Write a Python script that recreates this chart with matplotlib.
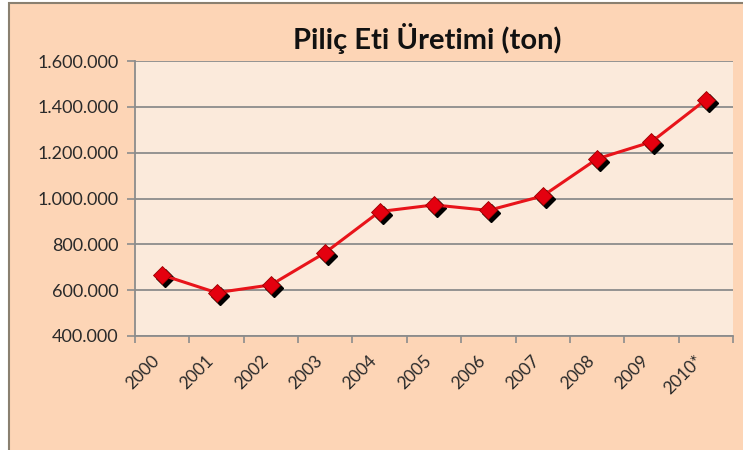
import matplotlib
matplotlib.use("Agg")
import matplotlib.pyplot as plt
import matplotlib.transforms as mtransforms
from matplotlib.patches import Rectangle
from matplotlib.ticker import FuncFormatter

years = ["2000", "2001", "2002", "2003", "2004", "2005", "2006", "2007", "2008", "2009", "2010*"]
production = [666000, 589000, 623000, 764000, 943000, 972000, 948000, 1011000, 1173000, 1247000, 1431000]

plt.rcParams['font.family'] = ['Lato', 'DejaVu Sans']

fig = plt.figure(figsize=(7.43, 4.5), dpi=100, facecolor="white")
# chart area background with border
fig.patches.append(Rectangle((9 / 743, -0.01), 1.0, 1 - 3 / 450 + 0.01, transform=fig.transFigure,
                             facecolor="#FDD5B6", edgecolor="#8a8070", linewidth=1.5, zorder=-10))

ax = fig.add_axes([135 / 743, 1 - 336 / 450, (733 - 135) / 743, (336 - 61) / 450])
ax.set_facecolor("#FBEADB")

x = list(range(len(years)))
shadow = mtransforms.offset_copy(ax.transData, fig=fig, x=3, y=-3, units='dots')
ax.plot(x, production, linestyle="none", marker="D", markersize=9, color="black",
        transform=shadow, zorder=3)
ax.plot(x, production, color="#E8141A", linewidth=2.2, zorder=4)
ax.plot(x, production, linestyle="none", marker="D", markersize=9, color="#E4000F",
        markeredgecolor="#9a0000", markeredgewidth=0.6, zorder=5)

ax.set_xlim(-0.5, len(years) - 0.5)
ax.set_ylim(400000, 1600000)
ax.set_yticks(range(400000, 1600001, 200000))
ax.yaxis.set_major_formatter(FuncFormatter(lambda v, p: f"{int(v):,}".replace(",", ".")))
ax.grid(axis="y", color="#8c8c8c", linewidth=1.3)
ax.set_axisbelow(True)

ax.set_xticks([i - 0.5 for i in range(len(years) + 1)])
ax.set_xticklabels([])
ax.set_xticks(x, minor=True)
ax.set_xticklabels(years, minor=True, rotation=45, ha="right", va="top", rotation_mode="anchor")
ax.tick_params(axis="x", which="minor", length=0, pad=12, labelsize=12.5, labelcolor="#2a2a2a")
ax.tick_params(axis="x", which="major", length=5, color="#8c8c8c", width=1.2)
ax.tick_params(axis="y", length=6, color="#8c8c8c", width=1.2, labelsize=13, labelcolor="#2a2a2a", pad=6)
shift = mtransforms.ScaledTranslation(-11 / 100, 0, fig.dpi_scale_trans)
for lab in ax.get_xticklabels(minor=True):
    lab.set_transform(lab.get_transform() + shift)

for s in ["top", "right"]:
    ax.spines[s].set_visible(False)
for s in ["left", "bottom"]:
    ax.spines[s].set_color("#8c8c8c")
    ax.spines[s].set_linewidth(1.3)

fig.text(427 / 743, 1 - 38 / 450, "Piliç Eti Üretimi (ton)", ha="center", va="center",
         fontsize=21, fontweight="bold", color="#111111")

fig.savefig("out.png", dpi=100, facecolor=fig.get_facecolor())
